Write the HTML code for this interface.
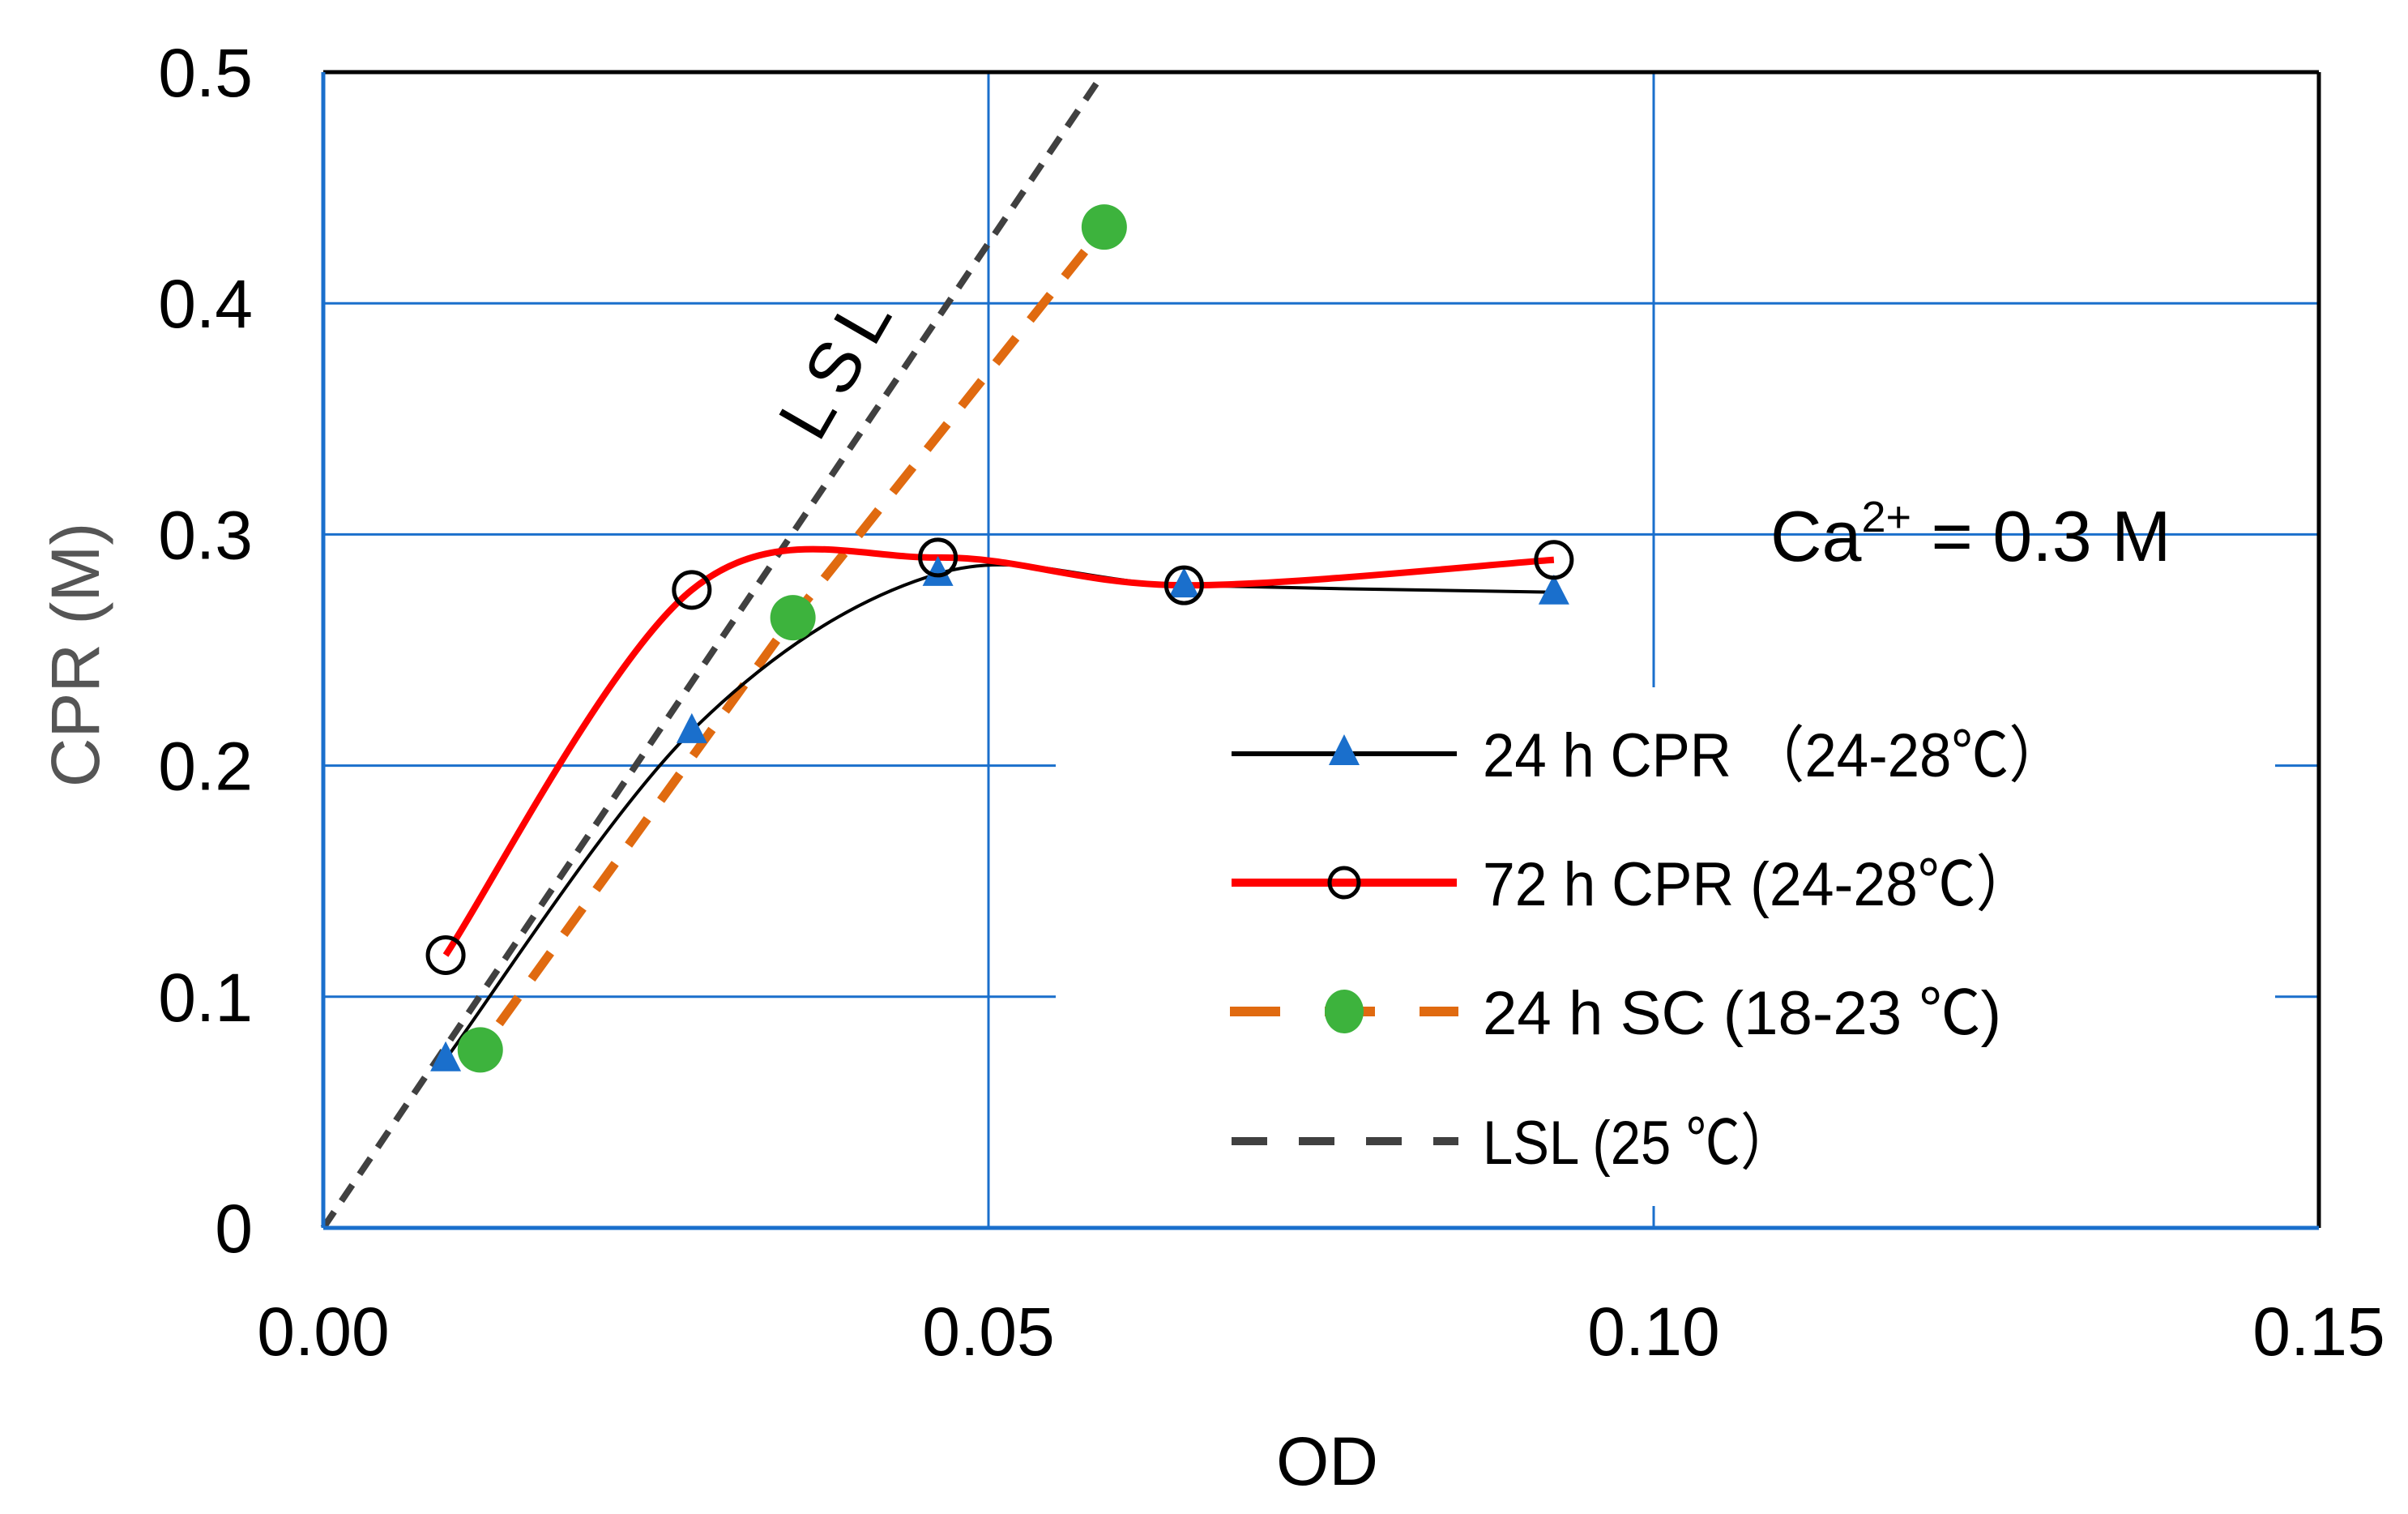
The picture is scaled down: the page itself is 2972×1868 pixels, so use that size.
<!DOCTYPE html>
<html><head><meta charset="utf-8"><style>
html,body{margin:0;padding:0;background:#fff;}
svg{display:block;font-family:"Liberation Sans","Noto Sans CJK JP",sans-serif;}
</style></head><body>
<svg id="chart" width="2972" height="1868" viewBox="0 0 2972 1868">
<g id="grid"></g>
<g id="series"></g>
<g id="axes"></g>
</svg>
<script>
const xTicks = [0, 0.05, 0.10, 0.15];
const xTickLabels = ["0.00", "0.05", "0.10", "0.15"];
const yTicks = [0, 0.1, 0.2, 0.3, 0.4, 0.5];
const yTickLabels = ["0", "0.1", "0.2", "0.3", "0.4", "0.5"];
const cpr24X = [0.0092, 0.0277, 0.0462, 0.0647, 0.0925];
const cpr24Y = [0.073, 0.215, 0.283, 0.278, 0.275];
const cpr72X = [0.0092, 0.0277, 0.0462, 0.0647, 0.0925];
const cpr72Y = [0.118, 0.276, 0.290, 0.278, 0.289];
const scX = [0.0118, 0.0353, 0.0587];
const scY = [0.077, 0.264, 0.433];
const lslX = [0, 0.0581];
const lslY = [0, 0.495];

const NS = "http://www.w3.org/2000/svg";
const X0 = 399, X1 = 2862, Y0 = 1515, Y1 = 89;
function sx(v){ return X0 + (v - 0) / 0.15 * (X1 - X0); }
function sy(v){ return Y0 - (v - 0) / 0.5 * (Y0 - Y1); }
function mk(tag, attrs, parent){
  const e = document.createElementNS(NS, tag);
  for (const k in attrs) e.setAttribute(k, attrs[k]);
  parent.appendChild(e);
  return e;
}
const gridG = document.getElementById("grid");
const seriesG = document.getElementById("series");
const axesG = document.getElementById("axes");

xTicks.forEach((t, i) => {
  if (i === 0) return;
  const l = mk("line", {x1: sx(t), x2: sx(t), y1: Y1, y2: Y0, stroke: "#1a6fcc", "stroke-width": 3}, gridG);
  
  
});
yTicks.forEach((t, i) => {
  if (i === 0 || i === yTicks.length - 1) return;
  const l = mk("line", {x1: X0, x2: X1, y1: sy(t), y2: sy(t), stroke: "#1a6fcc", "stroke-width": 3}, gridG);
  
  
});

function smooth(xs, ys){
  const p = xs.map((x, i) => [sx(x), sy(ys[i])]);
  let d = "M" + p[0][0] + "," + p[0][1];
  for (let i = 0; i < p.length - 1; i++){
    const p0 = p[Math.max(0, i-1)], p1 = p[i], p2 = p[i+1], p3 = p[Math.min(p.length-1, i+2)];
    const t = 1/6;
    const c1 = [p1[0] + (p2[0]-p0[0])*t, p1[1] + (p2[1]-p0[1])*t];
    const c2 = [p2[0] - (p3[0]-p1[0])*t, p2[1] - (p3[1]-p1[1])*t];
    d += " C" + c1[0] + "," + c1[1] + " " + c2[0] + "," + c2[1] + " " + p2[0] + "," + p2[1];
  }
  return d;
}

const lsl = mk("line", {x1: sx(lslX[0]), y1: sy(lslY[0]), x2: sx(lslX[1]), y2: sy(lslY[1]), stroke: "#404040", "stroke-width": 8, "stroke-dasharray": "24 16"}, seriesG);



const scPts = scX.map((x, i) => sx(x) + "," + sy(scY[i])).join(" ");
const scl = mk("polyline", {points: scPts, fill: "none", stroke: "#e06a10", "stroke-width": 11, "stroke-dasharray": "40 28", "stroke-dashoffset": "-40"}, seriesG);



const c24 = mk("path", {d: smooth(cpr24X, cpr24Y), fill: "none", stroke: "#000", "stroke-width": 4}, seriesG);



const c72 = mk("path", {d: smooth(cpr72X, cpr72Y), fill: "none", stroke: "#ff0000", "stroke-width": 8}, seriesG);



function tri(cx, cy, parent){
  return mk("polygon", {points: (cx) + "," + (cy-22) + " " + (cx-19) + "," + (cy+15) + " " + (cx+19) + "," + (cy+15), fill: "#1a6fcc"}, parent);
}
cpr24X.forEach((x, i) => {
  const t = tri(sx(x), sy(cpr24Y[i]), seriesG);
  
  
});
cpr72X.forEach((x, i) => {
  const c = mk("circle", {cx: sx(x), cy: sy(cpr72Y[i]), r: 22, fill: "none", stroke: "#000", "stroke-width": 5}, seriesG);
  
  
});
scX.forEach((x, i) => {
  const c = mk("circle", {cx: sx(x), cy: sy(scY[i]), r: 28, fill: "#3db33d"}, seriesG);
  
  
});

const frameTop = mk("line", {x1: X0, x2: X1, y1: Y1, y2: Y1, stroke: "#000", "stroke-width": 5}, axesG);


const frameRight = mk("line", {x1: X1, x2: X1, y1: Y1, y2: Y0, stroke: "#000", "stroke-width": 5}, axesG);


const xa = mk("line", {x1: X0, x2: X1, y1: Y0, y2: Y0, stroke: "#1a6fcc", "stroke-width": 5}, axesG);


const ya = mk("line", {x1: X0, x2: X0, y1: Y1, y2: Y0, stroke: "#1a6fcc", "stroke-width": 5}, axesG);



xTicks.forEach((t, i) => {
  const e = mk("text", {x: sx(t), y: 1672, "font-size": 84, "text-anchor": "middle", fill: "#000"}, axesG);
  e.textContent = xTickLabels[i];
  
  
});
yTicks.forEach((t, i) => {
  const e = mk("text", {x: 312, y: sy(t) + 30, "font-size": 84, "text-anchor": "end", fill: "#000"}, axesG);
  e.textContent = yTickLabels[i];
  
  
});
</script>
<svg style="position:absolute;left:0;top:0" width="2972" height="1868">
  <g font-family="Liberation Sans, Noto Sans CJK JP, sans-serif">
  <rect x="1303" y="848" width="1505" height="640" fill="#fff"/>
  <g>
    <line x1="1520" y1="930" x2="1798" y2="930" stroke="#000" stroke-width="6"/>
    <polygon points="1659,906 1640,944 1678,944" fill="#1a6fcc"/>
    <text x="1830" y="958" font-size="76" textLength="720" lengthAdjust="spacingAndGlyphs">24 h CPR （24-28℃）</text>
  </g>
  <g>
    <line x1="1520" y1="1089" x2="1798" y2="1089" stroke="#ff0000" stroke-width="10"/>
    <circle cx="1659" cy="1089" r="18" fill="none" stroke="#000" stroke-width="5"/>
    <text x="1830" y="1117" font-size="76" textLength="680" lengthAdjust="spacingAndGlyphs">72 h CPR (24-28℃）</text>
  </g>
  <g>
    <line x1="1518" y1="1248" x2="1800" y2="1248" stroke="#e06a10" stroke-width="12" stroke-dasharray="62 55"/>
    <ellipse cx="1659" cy="1248" rx="24" ry="27" fill="#3db33d"/>
    <text x="1830" y="1276" font-size="76" textLength="640" lengthAdjust="spacingAndGlyphs">24 h SC (18-23 ℃)</text>
  </g>
  <g>
    <line x1="1520" y1="1408" x2="1800" y2="1408" stroke="#404040" stroke-width="10" stroke-dasharray="44 39"/>
    <text x="1830" y="1436" font-size="76" textLength="385" lengthAdjust="spacingAndGlyphs">LSL (25 ℃）</text>
  </g>
  <text x="2185" y="692" font-size="88" fill="#000">Ca<tspan font-size="54" dy="-36">2+</tspan><tspan dy="36"> = 0.3 M</tspan></text>
  <text x="0" y="0" font-size="88" fill="#000" transform="translate(1060,462) rotate(-60)" text-anchor="middle" letter-spacing="14">LSL</text>
  <text x="1638" y="1832" font-size="84" text-anchor="middle" fill="#000">OD</text>
  <text x="0" y="0" font-size="84" fill="#555" text-anchor="middle" transform="translate(122,808) rotate(-90)">CPR (M)</text>
  </g>
</svg>
</body></html>
